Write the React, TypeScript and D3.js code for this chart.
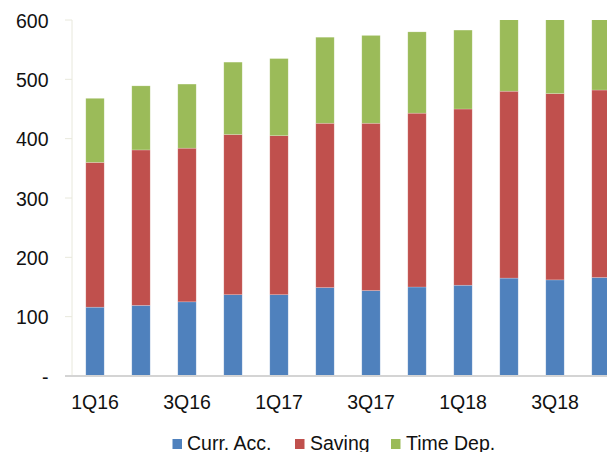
import React from "react";
import * as d3 from "d3";

const quarters = ["1Q16","2Q16","3Q16","4Q16","1Q17","2Q17","3Q17","4Q17","1Q18","2Q18","3Q18","4Q18"];
const currAcc = [116,119,125,137,137,149,144,150,153,165,162,166];
const saving = [244,262,259,270,268,277,282,293,297,315,314,316];
const timeDep = [108,108,108,122,130,145,148,137,133,140,140,140];
const seriesNames = ["Curr. Acc.","Saving","Time Dep."];
const colors = ["#4F81BD","#C0504D","#9BBB59"];
const yTicks = [0,100,200,300,400,500,600];
const xLabelShown = ["1Q16","3Q16","1Q17","3Q17","1Q18","3Q18"];

export default function App() {
  const W = 607, H = 452;
  const left = 72, top = 20, bottom = 376;
  const step = 46;
  const x = d3.scaleBand<string>().domain(quarters).range([left, left + step * quarters.length]).paddingInner(0.6).paddingOuter(0.3);
  const y = d3.scaleLinear().domain([0, 600]).range([bottom, top]);
  const rows = quarters.map((q, i) => ({ q, "Curr. Acc.": currAcc[i], "Saving": saving[i], "Time Dep.": timeDep[i] }));
  const stacked = d3.stack<any>().keys(seriesNames)(rows);
  const font = "'Liberation Sans', Arial, sans-serif";
  const fs = 19.5;
  const legendItems = [
    { name: "Curr. Acc.", sx: 172.5, tx: 187 },
    { name: "Saving", sx: 295, tx: 310 },
    { name: "Time Dep.", sx: 391, tx: 406 },
  ];
  return (
    <div style={{ position: "absolute", left: 0, top: 0 }}>
      <svg width={W} height={H} style={{ display: "block", background: "#fff" }}>
        <defs>
          <clipPath id="plot"><rect x={left} y={top} width={W - left} height={bottom - top} /></clipPath>
        </defs>
        <line x1={left} x2={left} y1={top} y2={bottom} stroke="#e8e8dc" strokeWidth={1} />
        {yTicks.map(t => (
          <g key={t}>
            <line x1={left - 7} x2={left} y1={y(t)} y2={y(t)} stroke="#e8e8dc" />
            <text x={48.5} y={y(t) + 1} dy="0.35em" textAnchor="end" fontFamily={font} fontSize={fs} fill="#111">{t === 0 ? "-" : t}</text>
          </g>
        ))}
        <g clipPath="url(#plot)">
          {stacked.map((s, si) => s.map((d, i) => (
            <rect key={si + "-" + i} x={x(quarters[i])!} width={x.bandwidth()} y={y(d[1])} height={y(d[0]) - y(d[1])} fill={colors[si]} stroke="rgba(255,255,255,0.35)" strokeWidth={0.6} />
          )))}
        </g>
        <line x1={left - 7} x2={W} y1={bottom} y2={bottom} stroke="#d4d4d4" strokeWidth={2} />
        {xLabelShown.map(q => (
          <text key={q} x={x(q)! + x.bandwidth() / 2} y={402} dy="0.35em" textAnchor="middle" fontFamily={font} fontSize={fs} fill="#111">{q}</text>
        ))}
        {legendItems.map((l, i) => (
          <g key={l.name}>
            <rect x={l.sx} y={439} width={9.5} height={10} fill={colors[i]} />
            <text x={l.tx} y={443} dy="0.35em" fontFamily={font} fontSize={fs} fill="#111">{l.name}</text>
          </g>
        ))}
      </svg>
    </div>
  );
}
